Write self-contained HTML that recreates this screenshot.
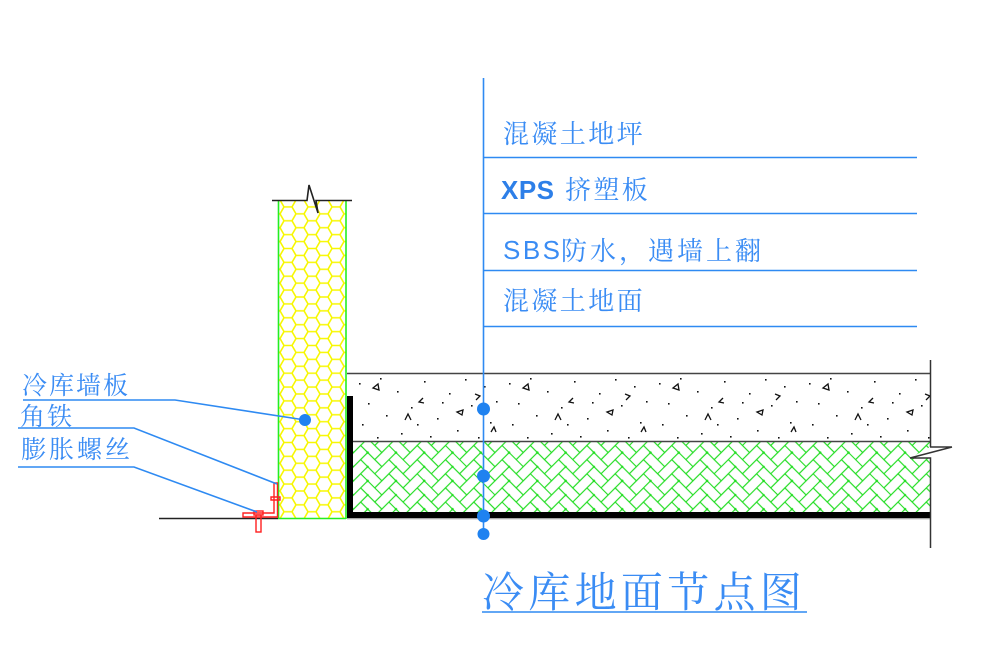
<!DOCTYPE html>
<html><head><meta charset="utf-8"><style>
html,body{margin:0;padding:0;background:#fff;}
svg{display:block;}
.t{font-family:"Liberation Serif","Noto Serif CJK SC",serif;fill:#3a8cf4;}
</style></head><body>
<svg width="986" height="659" viewBox="0 0 986 659" xmlns="http://www.w3.org/2000/svg">
<defs>
<pattern id="hex" patternUnits="userSpaceOnUse" width="24" height="13.856" x="276" y="200">
<path d="M0,0 H4 L8,6.928 H16 L20,0 H24 M4,13.856 L8,6.928 M16,6.928 L20,13.856 M0,13.856 H4 M20,13.856 H24" fill="none" stroke="#f7f700" stroke-width="1.6"/>
</pattern>
<pattern id="herr" patternUnits="userSpaceOnUse" width="40" height="40" patternTransform="rotate(45)">
<g fill="none" stroke="#22dd22" stroke-width="1.1">
<rect x="0" y="0" width="20" height="10"/>
<rect x="10" y="10" width="20" height="10"/>
<rect x="20" y="20" width="20" height="10"/>
<rect x="30" y="30" width="20" height="10"/>
<rect x="-10" y="30" width="20" height="10"/>
<rect x="20" y="-10" width="10" height="20"/>
<rect x="30" y="0" width="10" height="20"/>
<rect x="0" y="10" width="10" height="20"/>
<rect x="10" y="20" width="10" height="20"/>
<rect x="20" y="30" width="10" height="20"/>
<rect x="-10" y="0" width="10" height="20"/>
</g>
<g fill="#22dd22">
<circle cx="0" cy="0" r="1.3"/><circle cx="20" cy="20" r="1.3"/><circle cx="40" cy="40" r="1.3"/><circle cx="40" cy="0" r="1.3"/><circle cx="0" cy="40" r="1.3"/><circle cx="10" cy="10" r="1.1"/><circle cx="30" cy="30" r="1.1"/>
</g>
</pattern>
<pattern id="conc" patternUnits="userSpaceOnUse" width="150" height="68" x="353" y="374">
<g fill="#111">
<rect x="6" y="9" width="1.6" height="1.6"/><rect x="27" y="4" width="1.6" height="1.6"/>
<rect x="44" y="17" width="1.6" height="1.6"/><rect x="71" y="7" width="1.6" height="1.6"/>
<rect x="96" y="19" width="1.6" height="1.6"/><rect x="15" y="29" width="1.6" height="1.6"/>
<rect x="33" y="41" width="1.6" height="1.6"/><rect x="58" y="33" width="1.6" height="1.6"/>
<rect x="84" y="44" width="1.6" height="1.6"/><rect x="118" y="31" width="1.6" height="1.6"/>
<rect x="9" y="50" width="1.6" height="1.6"/><rect x="48" y="59" width="1.6" height="1.6"/>
<rect x="77" y="62" width="1.6" height="1.6"/><rect x="104" y="56" width="1.6" height="1.6"/>
<rect x="137" y="48" width="1.6" height="1.6"/><rect x="131" y="12" width="1.6" height="1.6"/>
<rect x="143" y="27" width="1.6" height="1.6"/><rect x="112" y="5" width="1.6" height="1.6"/>
<rect x="64" y="50" width="1.6" height="1.6"/><rect x="24" y="63" width="1.6" height="1.6"/>
<rect x="125" y="63" width="1.6" height="1.6"/><rect x="89" y="28" width="1.6" height="1.6"/>
</g>
<g fill="none" stroke="#111" stroke-width="1.3">
<path d="M20,14 l5,-4 l1,6 z"/>
<path d="M104,38 l6,-2 l-1,5 z"/>
<path d="M52,46 l3,-6 l3,6"/>
<path d="M122,20 l5,2 l-4,4"/>
<path d="M70,24 l-4,4 l5,1"/>
<path d="M138,58 l3,-5 l2,5"/>
</g>
</pattern>
</defs>

<!-- wall panel -->
<rect x="278" y="200" width="68" height="318" fill="url(#hex)"/>
<line x1="278.5" y1="200" x2="278.5" y2="519" stroke="#22ee22" stroke-width="1.6"/>
<line x1="346" y1="200" x2="346" y2="519" stroke="#22ee22" stroke-width="1.6"/>
<line x1="278" y1="518.5" x2="346" y2="518.5" stroke="#22ee22" stroke-width="1.6"/>
<path d="M272,200.5 H307 L309,185 L318,213 L316,200.5 H352" fill="none" stroke="#222" stroke-width="1.6"/>

<!-- concrete -->
<rect x="353" y="374" width="577" height="67" fill="url(#conc)"/>
<!-- XPS herringbone -->
<rect x="353" y="442" width="577" height="70" fill="url(#herr)"/>
<path d="M910,458 H930 V447 Z" fill="#fff"/>

<line x1="347" y1="373.5" x2="931" y2="373.5" stroke="#444" stroke-width="1.4"/>
<line x1="353" y1="441.5" x2="931" y2="441.5" stroke="#444" stroke-width="1.4"/>
<!-- black membrane -->
<rect x="347" y="396" width="6" height="122" fill="#000"/>
<rect x="347" y="512" width="583" height="6" fill="#000"/>
<line x1="347" y1="518.7" x2="930" y2="518.7" stroke="#888" stroke-width="1"/>
<!-- right edge with break -->
<path d="M930.5,360 V447 M930,447 H952 M952,447 L910,458 M910,458 H930.5 V548" fill="none" stroke="#333" stroke-width="1.5"/>
<!-- ground line -->
<line x1="159" y1="518.5" x2="278" y2="518.5" stroke="#222" stroke-width="1.6"/>

<!-- red angle iron and bolt -->
<g fill="none" stroke="#ff2020" stroke-width="1.4">
<path d="M274,483 H277.5 V517 H243 V513 H274 Z"/>
<rect x="254" y="511" width="9" height="4"/>
<rect x="256" y="515" width="5" height="17"/>
<path d="M271,497 H280 V500 H271 Z"/>
</g>

<!-- blue leaders -->
<g stroke="#2e8af2" stroke-width="1.6" fill="none">
<line x1="483.5" y1="78" x2="483.5" y2="534"/>
<line x1="483" y1="157.5" x2="917" y2="157.5"/>
<line x1="483" y1="213.5" x2="917" y2="213.5"/>
<line x1="483" y1="270.5" x2="917" y2="270.5"/>
<line x1="483" y1="326.5" x2="917" y2="326.5"/>
<polyline points="23,400 175,400 305,420"/>
<polyline points="18,428 134,428 277,484"/>
<polyline points="18,467 134,467 257,512"/>
<line x1="482" y1="612" x2="807" y2="612"/>
</g>
<g fill="#1f82f0">
<circle cx="483.5" cy="409" r="6.5"/>
<circle cx="483.5" cy="476" r="6.5"/>
<circle cx="483.5" cy="516" r="6.5"/>
<circle cx="483.5" cy="534" r="6"/>
<circle cx="305" cy="420" r="6"/>
</g>

<!-- texts -->
<text class="t" x="503" y="143" font-size="26" letter-spacing="2.4">混凝土地坪</text>
<text x="501" y="199" font-size="26" font-weight="bold" letter-spacing="0.5" fill="#2d7fe8" font-family="Liberation Sans, sans-serif">XPS</text>
<text class="t" x="565" y="199" font-size="26" letter-spacing="2.4">挤塑板</text>
<text x="503" y="259" font-size="26" letter-spacing="2.5" fill="#3a8cf4" font-family="Liberation Sans, sans-serif">SBS</text>
<text class="t" x="561" y="260" font-size="26" letter-spacing="3">防水，遇墙上翻</text>
<text class="t" x="503" y="310" font-size="26" letter-spacing="2.4">混凝土地面</text>

<text class="t" x="22" y="394" font-size="25" letter-spacing="2">冷库墙板</text>
<text class="t" x="20" y="425" font-size="25" letter-spacing="2">角铁</text>
<text class="t" x="21" y="458" font-size="25" letter-spacing="3">膨胀螺丝</text>

<text class="t" x="482" y="607" font-size="42" letter-spacing="4.3">冷库地面节点图</text>
</svg>
</body></html>
